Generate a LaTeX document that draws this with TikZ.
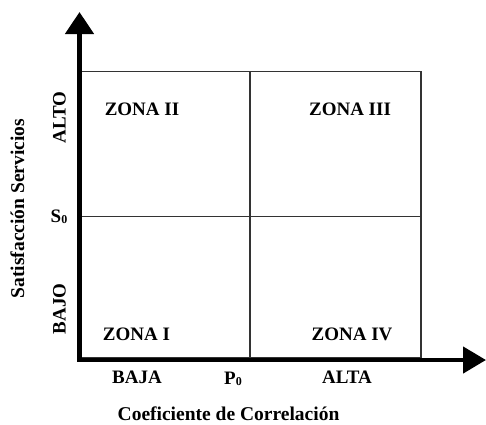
\documentclass[tikz,border=0pt]{standalone}
\usepackage{fontspec}
\setmainfont{Liberation Serif}
\usetikzlibrary{arrows.meta}
\begin{document}
\begin{tikzpicture}[x=1pt,y=-1pt,
  lbl/.style={font=\fontsize{19}{21}\selectfont\bfseries, inner sep=0pt, anchor=base},
  axislbl/.style={font=\fontsize{19.5}{21}\selectfont\bfseries, inner sep=0pt, anchor=base},
  grid/.style={draw=black!80, line width=1.3pt},
  axis/.style={line width=4.5pt, line join=miter, {Triangle[length=22pt,width=28pt]}-{Triangle[length=23pt,width=26pt]}}]
\useasboundingbox (0,0) rectangle (486,424);
% quadrant box
\coordinate (tl) at (81.5,71.5);
\coordinate (br) at (421,358);
\coordinate (tm) at (250,71.5);
\coordinate (bm) at (250,358);
\coordinate (ml) at (81.5,216.5);
\coordinate (mr) at (421,216.5);
\draw[grid] (tl) rectangle (br);
\draw[grid] (tm) -- (bm);
\draw[grid] (ml) -- (mr);
% axes
\coordinate (ytip) at (79.5,12);
\coordinate (origin) at (79.5,360);
\coordinate (xtip) at (486,360);
\draw[axis] (ytip) -- (origin) -- (xtip);
% zone labels
\node[lbl] (z2) at (142,115) {ZONA II};
\node[lbl] (z3) at (350,115) {ZONA III};
\node[lbl] (z1) at (136.5,340) {ZONA I};
\node[lbl] (z4) at (352,340) {ZONA IV};
% x-axis labels
\node[lbl] (baja) at (137,383) {BAJA};
\node[lbl] (p0) at (233,384.5) {P\raisebox{-1pt}{\fontsize{12}{12}\selectfont 0}};
\node[lbl] (alta) at (347,383) {ALTA};
\node[axislbl] (xl) at (228.5,420.5) {Coeficiente de Correlación};
% y-axis labels
\node[lbl, rotate=90] (alto) at (65.5,117.5) {ALTO};
\node[lbl, rotate=90] (bajo) at (65.7,309) {BAJO};
\node[lbl] (s0) at (59,222) {S\raisebox{-1pt}{\fontsize{12}{12}\selectfont 0}};
\node[axislbl, rotate=90] (yl) at (24,208.5) {Satisfacción Servicios};
\end{tikzpicture}
\end{document}
